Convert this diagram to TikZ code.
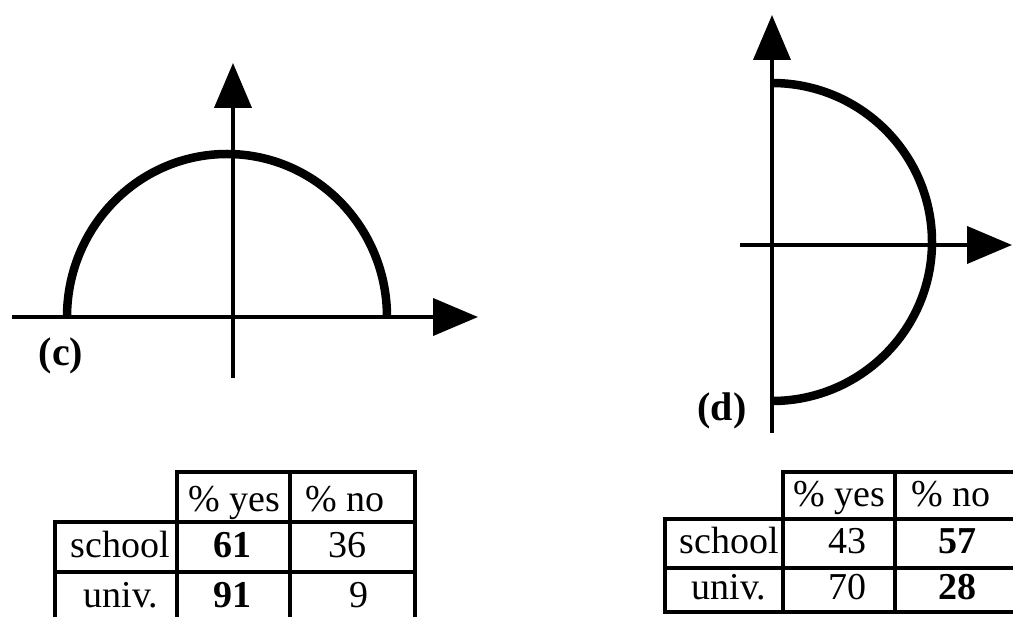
\documentclass[tikz,border=0pt]{standalone}
\usepackage{fontspec}
\setmainfont{Liberation Serif}
\usetikzlibrary{arrows.meta}
\tikzset{
  axis/.style={line width=4pt, -{Triangle[length=45pt,width=37pt]}},
  curve/.style={line width=8.5pt},
  grid/.style={line width=4pt, line cap=rect},
  cell/.style={font=\fontsize{38}{42}\selectfont, inner sep=0pt, anchor=base},
  bcell/.style={cell, font=\fontsize{38}{42}\selectfont\bfseries},
  tag/.style={font=\fontsize{40}{44}\selectfont\bfseries, inner sep=0pt}
}
\begin{document}
\begin{tikzpicture}[x=1pt,y=-1pt]
\useasboundingbox (0,0) rectangle (1013,617);

\coordinate (cW) at (12,317);
\coordinate (cE) at (478,317);
\coordinate (cS) at (233,378);
\coordinate (cN) at (233,63);
\coordinate (cL) at (67,317);

\draw[axis] (cW) -- (cE);
\draw[axis] (cS) -- (cN);
\draw[curve] (cL) arc[start angle=180, end angle=360, x radius=160, y radius=163];
\node[tag] (labc) at (61,356) {(c)};

\coordinate (dW) at (740,245);
\coordinate (dE) at (1012,245);
\coordinate (dS) at (772,433);
\coordinate (dN) at (772,15);
\coordinate (dT) at (772,83);

\draw[axis] (dW) -- (dE);
\draw[axis] (dS) -- (dN);
\draw[curve] (dT) arc[start angle=270, end angle=450, x radius=160, y radius=159];
\node[tag] (labd) at (722,411) {(d)};

\draw[grid] (177,617) -- (177,472) -- (415,472) -- (415,617);
\draw[grid] (290,472) -- (290,617);
\draw[grid] (55,617) -- (55,522) -- (415,522);
\draw[grid] (55,572) -- (415,572);

\node[cell] (cyes) at (234,512) {\% yes};
\node[cell] (cno) at (345,512) {\% no};
\node[cell] (cschool) at (120,558) {school};
\node[cell] (cuniv) at (121,607) {univ.};
\node[bcell] (c61) at (232,558) {61};
\node[cell] (c36) at (347,558) {36};
\node[bcell] (c91) at (232,607) {91};
\node[cell] (c9) at (359,607) {9};

\draw[grid] (783,519) -- (783,472) -- (1013,472);
\draw[grid] (895,472) -- (895,612);
\draw[grid] (665,519) -- (1013,519);
\draw[grid] (665,568) -- (1013,568);
\draw[grid] (665,519) -- (665,612) -- (1013,612);
\draw[grid] (783,519) -- (783,612);

\node[cell] (dyes) at (839,507) {\% yes};
\node[cell] (dno) at (951,507) {\% no};
\node[cell] (dschool) at (729,554) {school};
\node[cell] (duniv) at (729,600) {univ.};
\node[cell] (d43) at (847,554) {43};
\node[bcell] (d57) at (957,554) {57};
\node[cell] (d70) at (847,600) {70};
\node[bcell] (d28) at (957,600) {28};
\end{tikzpicture}
\end{document}
